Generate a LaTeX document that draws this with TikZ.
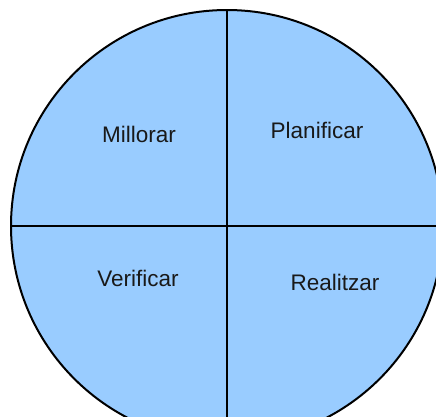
\documentclass[tikz,border=0pt]{standalone}
\usepackage{fontspec}
\setmainfont{Liberation Sans}
\definecolor{fillblue}{HTML}{99CCFF}
\begin{document}
\begin{tikzpicture}[x=1pt,y=-1pt,
  lbl/.style={font=\fontsize{22.5}{26}\selectfont, text=black!90, inner sep=0pt},
  edge/.style={line width=2pt, draw=black}]
\useasboundingbox (0,0) rectangle (436,416);
\clip (0,0) rectangle (436,416);
\coordinate (c) at (227,226);
\fill[fillblue] (c) circle [radius=216];
\draw[edge] (c) circle [radius=216];
\coordinate (top) at (227,10);
\coordinate (bot) at (227,442);
\coordinate (lft) at (11,226);
\coordinate (rgt) at (443,226);
\draw[edge] (top) -- (bot);
\draw[edge] (lft) -- (rgt);
\node[lbl] (m) at (139,134) {Millorar};
\node[lbl] (p) at (317,130) {Planificar};
\node[lbl] (v) at (138,278) {Verificar};
\node[lbl] (r) at (335,282) {Realitzar};
\end{tikzpicture}
\end{document}
